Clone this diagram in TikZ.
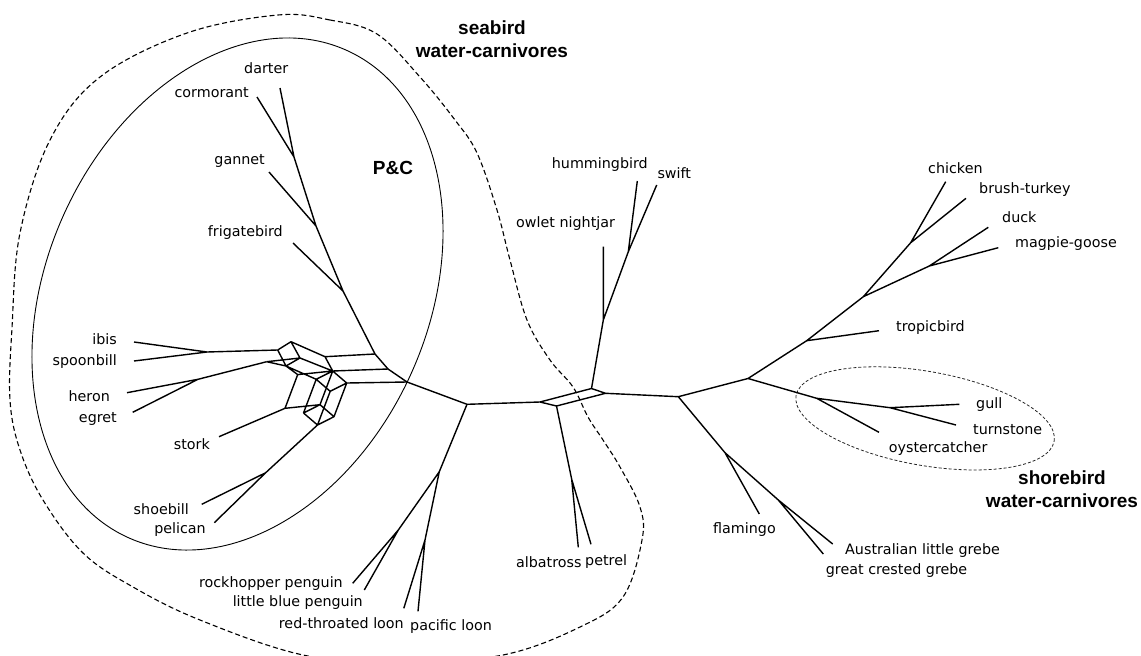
\documentclass[tikz,border=0pt]{standalone}
\usepackage{fontspec}
\setmainfont{DejaVu Sans}
\newfontfamily\grpfont{Liberation Sans}
\begin{document}
\begin{tikzpicture}[x=1pt,y=-1pt,
  br/.style={line width=1.4pt,line join=round},
  lab/.style={inner sep=0pt,font=\fontsize{14.3}{17}\selectfont},
  grp/.style={inner sep=0pt,align=center,font=\grpfont\bfseries\fontsize{19}{23}\selectfont},
  pcring/.style={line width=0.9pt},
  sealine/.style={line width=1.1pt,dash pattern=on 5pt off 3pt},
  shoreline/.style={line width=0.8pt,black!85,dash pattern=on 3pt off 2pt}]
\useasboundingbox (0,0) rectangle (1141,656);

% ---------- group outlines ----------
\draw[sealine] plot[smooth cycle,tension=0.6] coordinates {
  (278,15) (330,20) (377,34) (420,77) (455,120) (477,153) (497,210) (510,260)
  (527,320) (550,360) (573,387) (588,417) (603,440) (620,467) (640,507) (642,540)
  (623,597) (580,627) (503,655) (400,663) (303,655) (200,620) (133,587) (83,553)
  (43,500) (20,450) (10,400) (12,328) (20,233) (50,140) (100,77) (187,33)};
\coordinate (pcc) at (237.5,294);
\draw[pcring,rotate around={66:(pcc)}] (pcc) ellipse [x radius=267pt,y radius=191pt];
\coordinate (shc) at (925,418.3);
\draw[shoreline,rotate around={-10:(shc)}] (shc) ellipse [x radius=131pt,y radius=47pt];

% ---------- junctions ----------
\coordinate (jDC) at (294,157);
\coordinate (jG) at (316,226);
\coordinate (jF) at (343,291);
\coordinate (R1) at (375,354);
\coordinate (R2) at (388,369);
\coordinate (R3) at (407,382);
% reticulate part of the pelecaniform/ciconiiform group
\coordinate (I0) at (277.7,350);
\coordinate (I1) at (291,341.7);
\coordinate (T1) at (325,356.7);
\coordinate (T2) at (332.7,371);
\coordinate (T3) at (346.7,383);
\coordinate (J1) at (286,366);
\coordinate (J2) at (300,358);
\coordinate (K0) at (266.7,361.7);
\coordinate (S1) at (297.7,374.6);
\coordinate (NS) at (285,408.3);
\coordinate (Q1) at (303.5,413);
\coordinate (Q2) at (317.5,425);
\coordinate (Q3) at (334,416.7);
\coordinate (Q4) at (320,404.7);
\coordinate (Q5) at (316.2,379.3);
\coordinate (Q6) at (330.2,391.3);
\coordinate (jIS) at (207,352);
\coordinate (jHE) at (198,379.3);
\coordinate (jSP) at (265.7,472.7);
% backbone
\coordinate (C1) at (467,404.3);
\coordinate (C2) at (439.3,471.7);
\coordinate (jPen) at (398.3,530);
\coordinate (jLoon) at (425,540);
\coordinate (D1) at (540,402);
\coordinate (D2) at (556.5,406);
\coordinate (D3) at (591.5,388.5);
\coordinate (D4) at (605.5,393.3);
\coordinate (jOw) at (603.3,320);
\coordinate (jHS) at (628.3,251.7);
\coordinate (jAP) at (571.7,479.3);
\coordinate (E1) at (678.3,396.7);
\coordinate (F1) at (748,378.5);
\coordinate (jTr) at (806.7,340.7);
\coordinate (G1) at (863.3,296.7);
\coordinate (jCB) at (910.7,242.7);
\coordinate (jDG) at (929.3,266);
\coordinate (jOy) at (816.7,398.3);
\coordinate (jGT) at (890,407.7);
\coordinate (jFl) at (725,452.7);
\coordinate (jGr) at (778.3,500);

% ---------- leaf tips ----------
\coordinate (dL) at (280,88);
\coordinate (cL) at (257,97);
\coordinate (gL) at (269,172);
\coordinate (fL) at (293,243);
\coordinate (ibL) at (134,342);
\coordinate (spL) at (134,361);
\coordinate (heL) at (127,392.7);
\coordinate (egL) at (132.7,412.3);
\coordinate (stL) at (219,436.7);
\coordinate (shL) at (201.7,504.3);
\coordinate (peL) at (214.3,522.7);
\coordinate (rpL) at (352.7,583.3);
\coordinate (lbL) at (364.3,590);
\coordinate (rtL) at (403.8,608.3);
\coordinate (plL) at (418,611.3);
\coordinate (alL) at (578.3,547.3);
\coordinate (ptL) at (591,544.3);
\coordinate (onL) at (603.3,246.7);
\coordinate (huL) at (637.3,181);
\coordinate (swL) at (656.7,185);
\coordinate (chL) at (945.7,181.7);
\coordinate (btL) at (966,198.3);
\coordinate (duL) at (988.3,227.3);
\coordinate (mgL) at (998.3,247.7);
\coordinate (trL) at (879,330.7);
\coordinate (guL) at (959.3,404.3);
\coordinate (tuL) at (956,425);
\coordinate (oyL) at (879,432.3);
\coordinate (flL) at (759.3,514);
\coordinate (agL) at (832.7,544);
\coordinate (gcL) at (823.3,554);

% ---------- branches ----------
\draw[br] (jDC) -- (dL) (jDC) -- (cL) (jDC) -- (jG) -- (gL) (jG) -- (jF) -- (fL)
  (jF) -- (R1) -- (R2) -- (R3) -- (C1);
% reticulation
\draw[br] (I0) -- (I1) -- (T1) -- (R1) (T1) -- (T2) -- (R2) (T2) -- (T3) -- (R3)
  (I0) -- (J1) -- (J2) -- (I1) (J2) -- (T2)
  (K0) -- (J1) (K0) -- (J2) (J1) -- (Q5) -- (T2)
  (J1) -- (S1) -- (T2) (S1) -- (NS) -- (Q4)
  (Q1) -- (Q4) -- (Q3) -- (Q2) -- (Q1)
  (Q4) -- (T2) (Q3) -- (T3) (Q1) -- (Q5) -- (Q6) -- (T3) (Q2) -- (Q6);
\draw[br] (jIS) -- (I0) (jIS) -- (ibL) (jIS) -- (spL)
  (jHE) -- (K0) (jHE) -- (heL) (jHE) -- (egL)
  (NS) -- (stL)
  (Q2) -- (jSP) -- (shL) (jSP) -- (peL);
% backbone and the remaining clades
\draw[br] (C1) -- (C2) -- (jPen) -- (rpL) (jPen) -- (lbL)
  (C2) -- (jLoon) -- (rtL) (jLoon) -- (plL);
\draw[br] (C1) -- (D1) -- (D2) -- (D4) -- (D3) -- (D1)
  (D3) -- (jOw) -- (onL) (jOw) -- (jHS) -- (huL) (jHS) -- (swL)
  (D2) -- (jAP) -- (alL) (jAP) -- (ptL)
  (D4) -- (E1) -- (F1) -- (jTr) -- (trL) (jTr) -- (G1)
  (G1) -- (jCB) -- (chL) (jCB) -- (btL)
  (G1) -- (jDG) -- (duL) (jDG) -- (mgL)
  (F1) -- (jOy) -- (oyL) (jOy) -- (jGT) -- (guL) (jGT) -- (tuL)
  (E1) -- (jFl) -- (flL) (jFl) -- (jGr) -- (agL) (jGr) -- (gcL);

% ---------- taxon labels ----------
\node[lab,anchor=west] (tdarter) at (244,68) {darter};
\node[lab,anchor=east] (tcorm) at (249,93) {cormorant};
\node[lab,anchor=east] (tgannet) at (265,161) {gannet};
\node[lab,anchor=east] (tfrig) at (283,233) {frigatebird};
\node[lab,anchor=east] (tibis) at (117,339) {ibis};
\node[lab,anchor=east] (tspoon) at (117,362) {spoonbill};
\node[lab,anchor=east] (theron) at (110,396) {heron};
\node[lab,anchor=east] (tegret) at (117,419) {egret};
\node[lab,anchor=east] (tstork) at (210,444) {stork};
\node[lab,anchor=east] (tshoe) at (189,509) {shoebill};
\node[lab,anchor=east] (tpel) at (206,530) {pelican};
\node[lab,anchor=east] (trock) at (343,584) {rockhopper penguin};
\node[lab,anchor=east] (tlbp) at (363,603) {little blue penguin};
\node[lab,anchor=east] (trtl) at (404,623) {red-throated loon};
\node[lab,anchor=west] (tpac) at (410,627) {pacific loon};
\node[lab,anchor=east] (talb) at (581.7,562.5) {albatross};
\node[lab,anchor=west] (tpet) at (585,562) {petrel};
\node[lab,anchor=west] (towl) at (516,224) {owlet nightjar};
\node[lab,anchor=west] (thum) at (551.7,165) {hummingbird};
\node[lab,anchor=west] (tswift) at (657.3,173.3) {swift};
\node[lab,anchor=west] (tchick) at (928,167.7) {chicken};
\node[lab,anchor=west] (tbrush) at (979,190) {brush-turkey};
\node[lab,anchor=west] (tduck) at (1002,216.7) {duck};
\node[lab,anchor=west] (tmag) at (1015,243.3) {magpie-goose};
\node[lab,anchor=west] (ttrop) at (896,327.3) {tropicbird};
\node[lab,anchor=west] (tgull) at (976,404.3) {gull};
\node[lab,anchor=west] (tturn) at (973,429.3) {turnstone};
\node[lab,anchor=west] (toyst) at (888.7,448.3) {oystercatcher};
\node[lab,anchor=west] (tflam) at (713,529.3) {flamingo};
\node[lab,anchor=west] (talg) at (845,550.7) {Australian little grebe};
\node[lab,anchor=west] (tgcg) at (825.7,571) {great crested grebe};

% ---------- group names ----------
\node[grp] (gsea) at (492,39) {seabird\\water-carnivores};
\node[grp] (gpc) at (393,168) {P\&C};
\node[grp] (gshore) at (1062,489) {shorebird\\water-carnivores};
\end{tikzpicture}
\end{document}
